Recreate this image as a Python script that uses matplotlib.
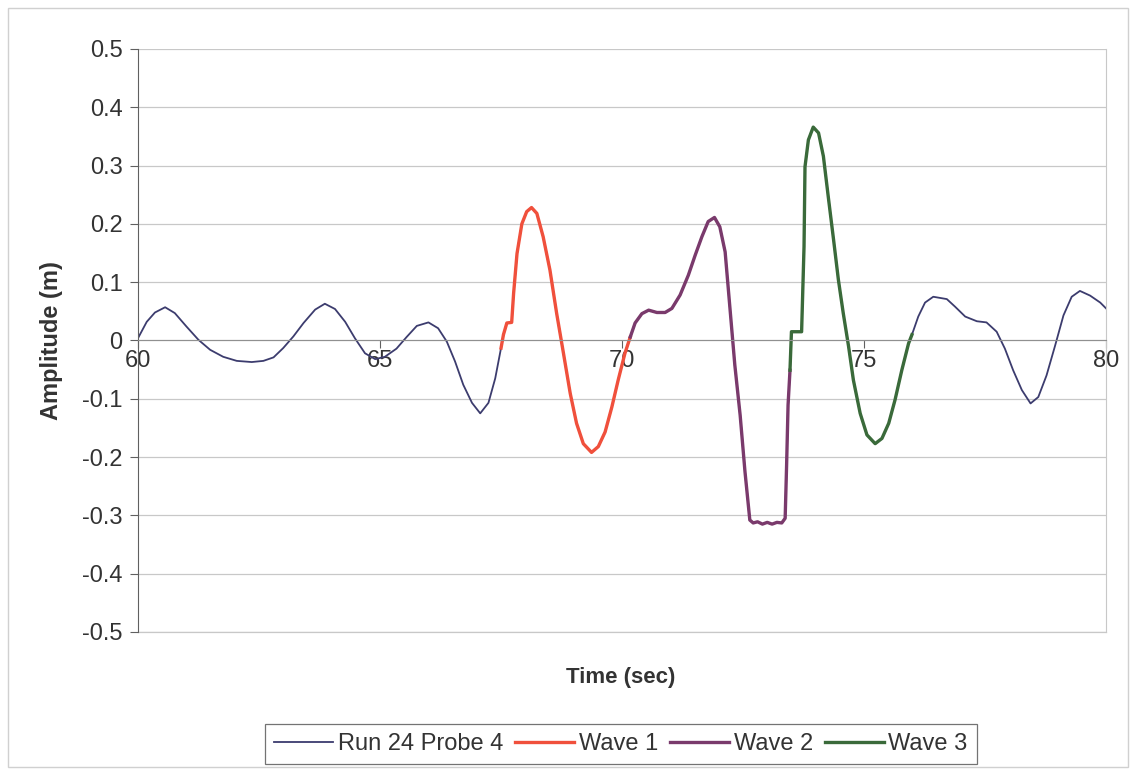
import numpy as np
import matplotlib.pyplot as plt
from matplotlib.patches import Rectangle

plt.rcParams['font.family'] = ['Liberation Sans', 'DejaVu Sans']

# Run 24 Probe 4 record (time in sec, amplitude in m)
probe_t = [60.0, 60.18, 60.35, 60.56, 60.76, 61.0, 61.25, 61.49, 61.76, 62.04,
           62.35, 62.59, 62.8, 63.0, 63.21, 63.42, 63.66, 63.86, 64.07, 64.28,
           64.48, 64.69, 64.9, 65.1, 65.34, 65.55, 65.76, 66.0, 66.2, 66.38,
           66.55, 66.72, 66.9, 67.07, 67.24, 67.38, 67.5,
           67.55, 67.62, 67.72, 67.76, 67.83, 67.93, 68.03, 68.13, 68.24, 68.37,
           68.51, 68.65, 68.79, 68.93, 69.06, 69.2, 69.37, 69.51, 69.65, 69.79,
           69.92, 70.06, 70.17,
           70.27, 70.41, 70.55, 70.72, 70.89, 71.03, 71.2, 71.37, 71.51, 71.65,
           71.78, 71.91, 72.02, 72.13, 72.23, 72.33, 72.44, 72.54, 72.64, 72.71,
           72.8, 72.9, 73.0, 73.1, 73.2, 73.3, 73.37, 73.4, 73.43, 73.47,
           73.5, 73.71, 73.76, 73.78, 73.85, 73.95, 74.06, 74.16, 74.26, 74.37,
           74.47, 74.57, 74.68, 74.78, 74.92, 75.06, 75.23, 75.37, 75.51, 75.64,
           75.78, 75.92, 75.99,
           76.12, 76.26, 76.43, 76.71, 76.88, 77.09, 77.33, 77.53, 77.74, 77.91,
           78.08, 78.26, 78.44, 78.6, 78.77, 78.95, 79.12, 79.29, 79.46, 79.67,
           79.88, 80.0]
probe_y = [0.004, 0.032, 0.048, 0.057, 0.047, 0.024, 0.001, -0.016, -0.028, -0.035,
           -0.037, -0.035, -0.029, -0.013, 0.007, 0.03, 0.053, 0.063, 0.054, 0.032,
           0.004, -0.022, -0.032, -0.028, -0.014, 0.006, 0.025, 0.031, 0.021, -0.002,
           -0.036, -0.076, -0.107, -0.125, -0.107, -0.065, -0.013,
           0.01, 0.03, 0.031, 0.081, 0.149, 0.2, 0.221, 0.228, 0.218, 0.178,
           0.121, 0.046, -0.022, -0.091, -0.142, -0.177, -0.192, -0.182, -0.157, -0.114,
           -0.068, -0.022, 0.006,
           0.03, 0.046, 0.052, 0.048, 0.048, 0.055, 0.078, 0.112, 0.146, 0.178,
           0.204, 0.211, 0.195, 0.152, 0.055, -0.042, -0.128, -0.225, -0.308, -0.313,
           -0.311, -0.315, -0.312, -0.315, -0.312, -0.313, -0.305, -0.214, -0.111, -0.051,
           0.015, 0.015, 0.161, 0.298, 0.344, 0.366, 0.356, 0.316, 0.247, 0.173,
           0.104, 0.047, -0.01, -0.068, -0.125, -0.162, -0.177, -0.168, -0.142, -0.102,
           -0.051, -0.005, 0.01,
           0.041, 0.065, 0.075, 0.071, 0.058, 0.041, 0.033, 0.031, 0.015, -0.014,
           -0.051, -0.085, -0.108, -0.097, -0.06, -0.008, 0.043, 0.075, 0.085, 0.077,
           0.065, 0.055]

series_names = ['Run 24 Probe 4', 'Wave 1', 'Wave 2', 'Wave 3']
wave_starts = [67.5, 70.17, 73.47]
wave_ends = [70.17, 73.47, 75.99]
series_colors = ['#3c3c6e', '#f0503c', '#7a3a6c', '#3a6a3a']

t = np.array(probe_t)
y = np.array(probe_y)

fig = plt.figure(figsize=(11.35, 7.69), dpi=100)
ax = fig.add_axes([0.1216, 0.1782, 0.8529, 0.7581])

ax.plot(t, y, color=series_colors[0], lw=1.3, label=series_names[0])
for i in range(3):
    m = (t >= wave_starts[i]) & (t <= wave_ends[i])
    ax.plot(t[m], y[m], color=series_colors[i + 1], lw=2.4, label=series_names[i + 1])

ax.set_xlim(60, 80)
ax.set_ylim(-0.5, 0.5)
ax.set_xticks([60, 65, 70, 75, 80])
ax.set_yticks(np.arange(-0.5, 0.51, 0.1))
ax.set_yticklabels(['-0.5', '-0.4', '-0.3', '-0.2', '-0.1', '0', '0.1', '0.2', '0.3', '0.4', '0.5'])
ax.grid(axis='y', color='#c8c8c8', lw=0.9)
ax.axhline(-0.5, color='#c8c8c8', lw=0.9, clip_on=False, zorder=0.5)
ax.set_axisbelow(True)

ax.spines['bottom'].set_position(('data', 0))
ax.spines['bottom'].set_color('#909090')
ax.spines['left'].set_color('#606060')
ax.spines['top'].set_visible(False)
ax.spines['right'].set_color('#c8c8c8')
ax.tick_params(axis='both', colors='#606060', labelcolor='#333333', labelsize=17, length=6)
ax.tick_params(axis='x', pad=1)
ax.tick_params(axis='y', pad=5)

ax.set_ylabel('Amplitude (m)', fontsize=17, fontweight='bold', color='#333333', labelpad=14)
fig.text(0.547, 1 - 677 / 769, 'Time (sec)', ha='center', va='center',
         fontsize=16, fontweight='bold', color='#333333')

leg = fig.legend(loc='center', bbox_to_anchor=(0.547, 1 - 744 / 769), ncol=4,
                 frameon=True, fancybox=False, fontsize=17, handlelength=2.5,
                 handletextpad=0.2, columnspacing=0.5, borderpad=0.4)
leg.get_frame().set_edgecolor('#505050')
leg.get_frame().set_linewidth(0.9)
for txt in leg.get_texts():
    txt.set_color('#333333')

fig.patches.append(Rectangle((8 / 1135, 2 / 769), 1120 / 1135, 759 / 769,
                             transform=fig.transFigure, fill=False,
                             edgecolor='#d0d0d0', lw=1.0))

fig.savefig('out.png', dpi=100)
